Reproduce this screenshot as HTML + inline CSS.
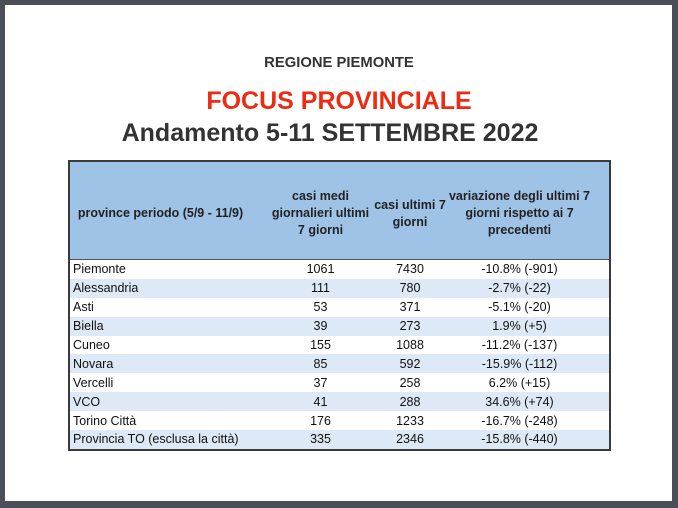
<!DOCTYPE html>
<html><head><meta charset="utf-8"><style>
body{margin:0;width:678px;height:508px;background:#4a4f58;position:relative;font-family:"Liberation Sans",sans-serif;overflow:hidden}
.pg{position:absolute;left:5px;top:5px;width:667px;height:496px;background:#fff}
.t{position:absolute;left:0;width:678px;text-align:center;font-weight:bold}
table{position:absolute;left:68px;top:160px;width:543px;border-collapse:collapse;table-layout:fixed;border:2px solid #3a3a3a;font-size:12.5px;color:#111}
th{background:#9fc3e7;height:91px;font-size:12.5px;font-weight:bold;color:#222;line-height:17px;text-align:center;padding:6px 0 0;border-bottom:1.5px solid #555;white-space:nowrap}
td{height:18.9px;padding:0 3px;text-align:center;line-height:18px;white-space:nowrap}
td:first-child{text-align:left}
tr.b td{background:#dde9f6}
.w{display:inline-block;width:80px;margin:0 -20px}
</style></head><body><div class="pg"></div>
<div class="t" style="top:55px;font-size:14.8px;color:#333">REGIONE PIEMONTE</div>
<div class="t" style="top:87px;font-size:25px;color:#ee2a12">FOCUS PROVINCIALE</div>
<div class="t" style="top:119px;font-size:25px;color:#333;left:-9px">Andamento 5-11 SETTEMBRE 2022</div>
<table>
<tr><th style="width:181px">province periodo (5/9 - 11/9)</th><th style="width:139px">casi medi<br>giornalieri ultimi<br>7 giorni</th><th style="width:40px"><span class="w">casi ultimi 7<br>giorni</span></th><th>variazione degli ultimi 7<br>giorni rispetto ai 7<br>precedenti</th></tr>
<tr><td>Piemonte</td><td>1061</td><td>7430</td><td>-10.8% (-901)</td></tr>
<tr class="b"><td>Alessandria</td><td>111</td><td>780</td><td>-2.7% (-22)</td></tr>
<tr><td>Asti</td><td>53</td><td>371</td><td>-5.1% (-20)</td></tr>
<tr class="b"><td>Biella</td><td>39</td><td>273</td><td>1.9% (+5)</td></tr>
<tr><td>Cuneo</td><td>155</td><td>1088</td><td>-11.2% (-137)</td></tr>
<tr class="b"><td>Novara</td><td>85</td><td>592</td><td>-15.9% (-112)</td></tr>
<tr><td>Vercelli</td><td>37</td><td>258</td><td>6.2% (+15)</td></tr>
<tr class="b"><td>VCO</td><td>41</td><td>288</td><td>34.6% (+74)</td></tr>
<tr><td>Torino Città</td><td>176</td><td>1233</td><td>-16.7% (-248)</td></tr>
<tr class="b"><td>Provincia TO (esclusa la città)</td><td>335</td><td>2346</td><td>-15.8% (-440)</td></tr>
</table>
</body></html>
